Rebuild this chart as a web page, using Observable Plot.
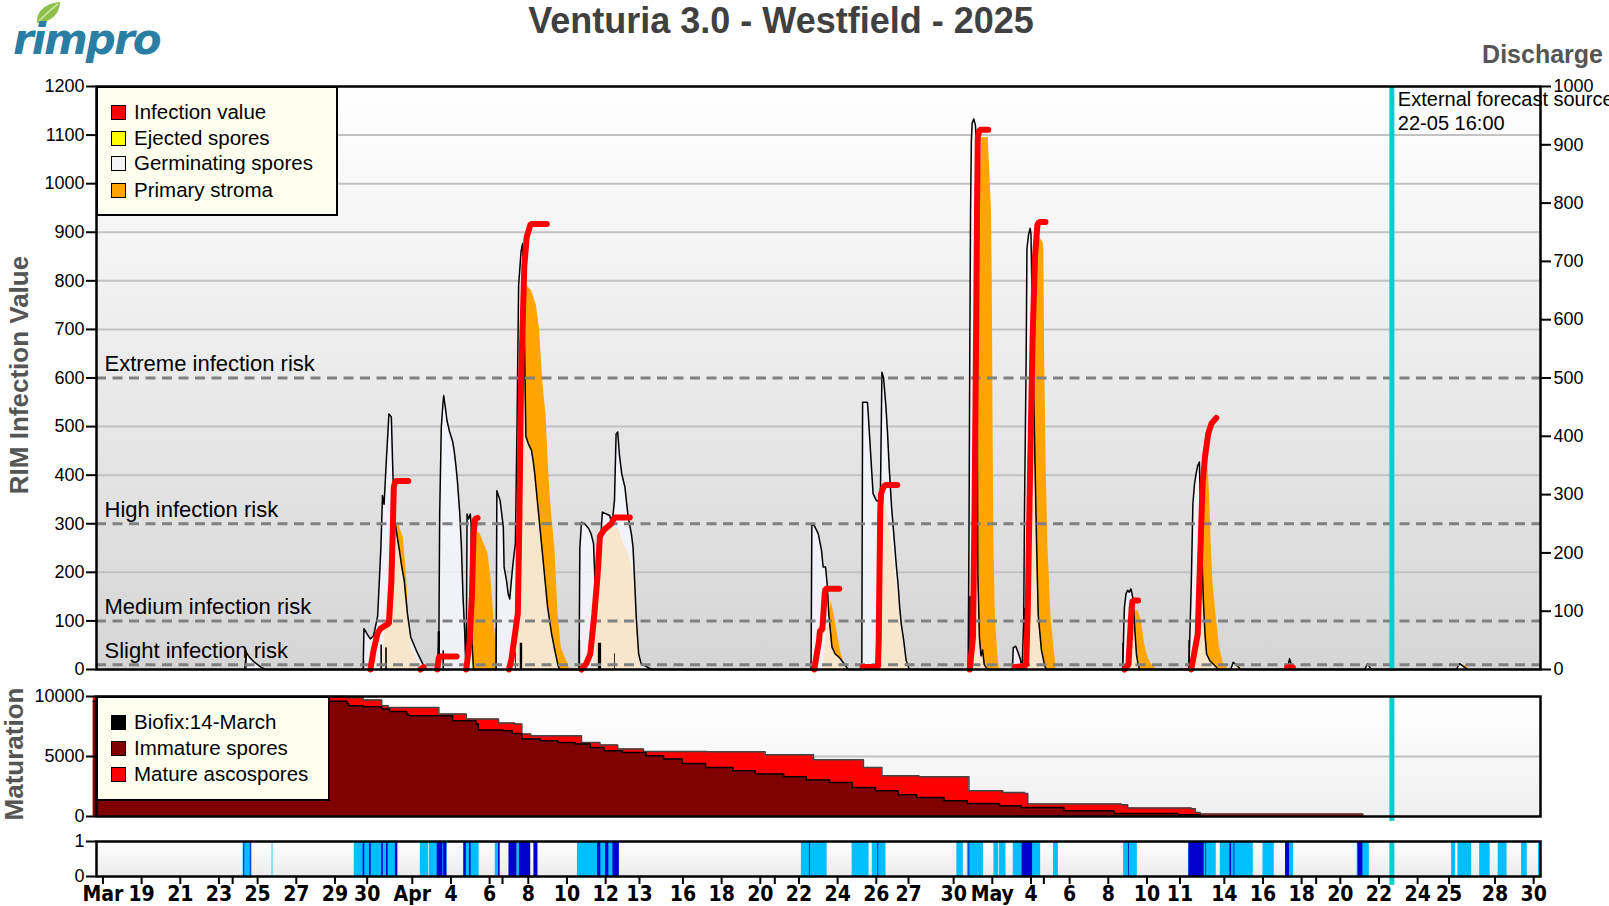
<!DOCTYPE html>
<html><head><meta charset="utf-8">
<script src="https://cdn.jsdelivr.net/npm/d3@7"></script>
<script src="https://cdn.jsdelivr.net/npm/@observablehq/plot@0.6"></script>
<style>
body{margin:0;background:#fff;}
#wrap{position:relative;width:1609px;height:906px;overflow:hidden;font-family:"Liberation Sans",Arial,sans-serif;background:#fff;}
.abs{position:absolute;white-space:nowrap;}
.legend{position:absolute;background:#fffff0;border:2px solid #000;box-sizing:border-box;z-index:5;}
.li{position:absolute;left:13px;height:24px;line-height:24px;font-size:20.5px;color:#000;}
.sw{display:inline-block;width:13px;height:13px;border:1.5px solid #000;vertical-align:-1px;margin-right:8px;}
.ytitle{position:absolute;font-weight:bold;color:#555;font-size:26px;line-height:26px;white-space:nowrap;transform:translate(-50%,-50%) rotate(-90deg);}
</style></head><body><div id="wrap"></div>
<script>
// ---------- DATA ----------
const xDomain = ["03-16 16:00", "05-30 08:30"];
const forecastTime = "05-22 16";
const forecastLabel = "External forecast source\n22-05 16:00";

const leftTicks = [0,100,200,300,400,500,600,700,800,900,1000,1100,1200];
const rightTicks = [0,100,200,300,400,500,600,700,800,900,1000];
const gridLevels = [200,400,500,700,800,900,1000,1100];
const riskLevels = [[10,"Slight infection risk"],[100,"Medium infection risk"],[300,"High infection risk"],[600,"Extreme infection risk"]];

// Germinating spores
const germ = [
["03-24 08",0],["03-24 10",35],["03-24 14",25],["03-24 20",15],["03-25 04",5],["03-25 10",0],
["03-30 11",0],["03-30 12",84],["03-30 17",70],["03-30 20",63],["03-31 00",70],["03-31 05",110],["03-31 09",250],["03-31 11",358],["03-31 13",340],["03-31 16",437],["03-31 19",526],["03-31 22",520],["04-01 00",400],["04-01 02",310],["04-01 06",266],["04-01 08",245],["04-01 11",211],["04-01 14",183],["04-01 18",115],["04-01 22",67],["04-02 05",39],["04-02 10",22],["04-02 14",8],["04-02 17",0],
["04-03 07",0],["04-03 09",60],["04-03 10",320],["04-03 12",498],["04-03 14",546],["04-03 15",564],["04-03 17",540],["04-03 19",513],["04-03 22",491],["04-04 02",470],["04-04 04",450],["04-04 06",422],["04-04 08",388],["04-04 11",320],["04-04 13",251],["04-04 15",148],["04-04 17",80],["04-04 18",30],["04-04 19",0],
["04-04 20",320],["04-04 22",310],["04-05 00",320],["04-05 01",300],["04-05 02",60],["04-05 04",0],
["04-06 08",0],["04-06 09",368],["04-06 13",348],["04-06 17",293],["04-06 18",210],["04-06 21",183],["04-06 23",156],["04-07 01",145],["04-07 03",183],["04-07 05",218],["04-07 08",260],["04-07 10",500],["04-07 12",790],["04-07 15",860],["04-07 17",877],["04-07 19",700],["04-07 21",480],["04-08 00",465],["04-08 04",451],["04-08 06",430],["04-08 08",403],["04-08 12",334],["04-08 16",266],["04-08 20",197],["04-09 00",128],["04-09 05",73],["04-09 09",39],["04-09 13",8],["04-09 15",0],
["04-10 15",0],["04-10 16",250],["04-10 18",303],["04-10 22",300],["04-11 03",290],["04-11 06",279],["04-11 09",259],["04-11 12",130],["04-11 16",200],["04-11 19",300],["04-11 20",324],["04-12 05",317],["04-12 08",300],["04-12 11",348],["04-12 13",485],["04-12 15",489],["04-12 17",444],["04-12 20",403],["04-13 00",375],["04-13 04",313],["04-13 08",279],["04-13 10",252],["04-13 12",183],["04-13 14",108],["04-13 17",32],["04-13 20",12],["04-14 09",0],
["04-22 15",0],["04-22 16",300],["04-22 19",296],["04-23 00",279],["04-23 04",245],["04-23 06",211],["04-23 09",211],["04-23 11",176],["04-23 13",114],["04-23 17",46],["04-23 21",32],["04-24 02",25],["04-24 08",12],["04-24 13",0],
["04-25 06",0],["04-25 07",550],["04-25 13",550],["04-25 14",526],["04-25 16",471],["04-25 18",416],["04-25 20",362],["04-26 00",348],["04-26 05",345],["04-26 07",612],["04-26 09",600],["04-26 10",581],["04-26 12",540],["04-26 14",485],["04-26 16",416],["04-26 19",334],["04-26 21",293],["04-26 23",252],["04-27 01",211],["04-27 03",176],["04-27 05",128],["04-27 07",94],["04-27 10",60],["04-27 13",19],["04-27 17",0],
["04-30 18",0],["04-30 19",256],["04-30 20",637],["04-30 21",942],["04-30 22",1087],["04-30 23",1125],["05-01 01",1133],["05-01 03",1121],["05-01 04",1095],["05-01 05",700],["05-01 06",200],["05-01 08",66],["05-01 10",28],["05-01 12",40],["05-01 14",10],["05-01 18",0],
["05-03 01",0],["05-03 02",45],["05-03 05",48],["05-03 08",35],["05-03 11",20],["05-03 13",0],["05-03 15",104],["05-03 16",333],["05-03 18",637],["05-03 19",866],["05-03 21",895],["05-03 23",908],["05-04 00",896],["05-04 03",600],["05-04 07",256],["05-04 09",112],["05-04 13",40],["05-04 17",8],["05-04 19",0],
["05-08 18",0],["05-08 19",73],["05-08 20",128],["05-08 22",156],["05-09 00",163],["05-09 02",159],["05-09 04",166],["05-09 05",160],["05-09 07",142],["05-09 09",80],["05-09 11",30],["05-09 13",10],["05-09 15",0],
["05-12 04",0],["05-12 07",176],["05-12 09",341],["05-12 11",382],["05-12 13",403],["05-12 15",420],["05-12 17",427],["05-12 19",300],["05-12 22",142],["05-13 00",73],["05-13 02",32],["05-13 06",18],["05-13 14",5],["05-13 16",0],
["05-14 08",0],["05-14 11",15],["05-14 16",8],["05-14 20",0],
["05-17 06",0],["05-17 09",22],["05-17 12",5],["05-17 14",0],
["05-21 06",0],["05-21 10",12],["05-21 14",0],
["05-26 00",0],["05-26 04",12],["05-26 10",5],["05-26 14",0]
];

// Primary stroma
const stroma = [
["03-31 10",0],["03-31 17",150],["04-01 00",280],["04-01 02",300],["04-01 08",295],["04-01 13",270],["04-01 17",190],["04-01 20",80],["04-02 00",40],["04-02 07",15],["04-02 13",0],
["04-05 03",0],["04-05 05",286],["04-05 12",280],["04-05 22",239],["04-06 02",180],["04-06 05",113],["04-06 08",45],["04-06 10",0],
["04-07 08",0],["04-07 14",300],["04-07 20",720],["04-07 22",790],["04-08 04",780],["04-08 10",750],["04-08 14",700],["04-08 18",592],["04-08 22",524],["04-09 00",455],["04-09 02",387],["04-09 05",318],["04-09 09",250],["04-09 11",181],["04-09 13",113],["04-09 17",44],["04-10 03",3],["04-10 05",0],
["04-11 10",0],["04-11 14",150],["04-11 20",240],["04-12 00",270],["04-12 06",295],["04-12 16",290],["04-12 22",260],["04-13 04",240],["04-13 10",200],["04-13 14",120],["04-13 17",40],["04-13 20",0],
["04-23 06",0],["04-23 12",100],["04-23 16",140],["04-23 20",110],["04-24 00",70],["04-24 04",35],["04-24 10",0],
["04-26 02",0],["04-26 06",300],["04-26 08",360],["04-26 12",340],["04-26 16",300],["04-26 20",250],["04-27 00",190],["04-27 04",140],["04-27 08",80],["04-27 12",25],["04-27 15",0],
["05-01 02",0],["05-01 06",600],["05-01 09",1000],["05-01 11",1095],["05-01 19",1095],["05-01 21",1020],["05-01 23",942],["05-02 00",789],["05-02 01",484],["05-02 02",256],["05-02 04",103],["05-02 07",28],["05-02 09",0],
["05-03 22",0],["05-04 03",400],["05-04 07",800],["05-04 10",889],["05-04 15",880],["05-04 16",866],["05-04 17",637],["05-04 19",409],["05-04 21",256],["05-05 01",104],["05-05 07",5],["05-05 08",0],
["05-09 02",0],["05-09 07",80],["05-09 10",121],["05-09 13",121],["05-09 17",101],["05-09 21",53],["05-10 01",25],["05-10 05",12],["05-10 12",0],
["05-12 13",0],["05-12 20",200],["05-13 00",380],["05-13 04",416],["05-13 06",348],["05-13 08",245],["05-13 10",176],["05-13 14",108],["05-13 18",46],["05-13 23",12],["05-14 05",0],
["05-14 12",0],["05-14 16",12],["05-14 22",0],["05-26 08",0],["05-26 12",10],["05-26 16",0]
];

// Infection value (time, value, event)
const infection = [
["04-02 10",0,"a"],["04-02 14",5,"a"],
["03-30 20",0,"B"],["03-31 00",40,"B"],["03-31 05",75,"B"],["03-31 09",85,"B"],["03-31 19",95,"B"],["03-31 22",180,"B"],["04-01 00",300,"B"],["04-01 01",375,"B"],["04-01 03",388,"B"],["04-01 19",388,"B"],
["04-03 07",0,"C"],["04-03 09",25,"C"],["04-03 10",27,"C"],["04-04 07",27,"C"],
["04-04 19",0,"D"],["04-04 23",55,"D"],["04-05 02",150,"D"],["04-05 04",280,"D"],["04-05 06",310,"D"],["04-05 09",312,"D"],
["04-07 00",0,"E"],["04-07 03",20,"E"],["04-07 11",115,"E"],["04-07 13",318,"E"],["04-07 15",592,"E"],["04-07 19",828,"E"],["04-07 22",890,"E"],["04-08 03",917,"E"],["04-08 23",917,"E"],
["04-10 18",0,"F"],["04-11 00",12,"F"],["04-11 05",32,"F"],["04-11 10",114,"F"],["04-11 14",194,"F"],["04-11 17",275,"F"],["04-11 23",289,"F"],["04-12 07",300,"F"],["04-12 11",313,"F"],["04-13 06",313,"F"],
["04-22 19",0,"G"],["04-23 01",60,"G"],["04-23 02",80,"G"],["04-23 05",82,"G"],["04-23 08",156,"G"],["04-23 09",166,"G"],["04-24 02",166,"G"],
["04-25 07",5,"H"],["04-26 02",5,"H"],["04-26 03",60,"H"],["04-26 04",200,"H"],["04-26 05",334,"H"],["04-26 06",362,"H"],["04-26 08",372,"H"],["04-26 11",380,"H"],["04-27 02",380,"H"],
["04-30 20",0,"I"],["05-01 00",66,"I"],["05-01 02",333,"I"],["05-01 04",714,"I"],["05-01 05",942,"I"],["05-01 06",1095,"I"],["05-01 08",1111,"I"],["05-01 19",1111,"I"],
["05-03 04",5,"J"],["05-03 18",8,"J"],["05-03 20",120,"J"],["05-03 23",420,"J"],["05-04 02",680,"J"],["05-04 05",850,"J"],["05-04 08",915,"J"],["05-04 10",921,"J"],["05-04 18",921,"J"],
["05-08 20",0,"K"],["05-09 01",10,"K"],["05-09 03",70,"K"],["05-09 05",128,"K"],["05-09 06",142,"K"],["05-09 13",142,"K"],
["05-12 07",0,"L"],["05-12 15",73,"L"],["05-12 19",279,"L"],["05-12 21",382,"L"],["05-13 00",437,"L"],["05-13 04",485,"L"],["05-13 08",506,"L"],["05-13 14",518,"L"],
["05-17 06",4,"M"],["05-17 13",4,"M"]
];

// Discharge (start, hours, value on right axis)
const discharge = [
["03-24 10",1,33],["03-30 12",1,15],["03-31 09",2,42],["03-31 15",2,37],["04-03 08",3,65],["04-03 14",2,32],["04-04 19",2,72],["04-06 08",1,70],["04-07 08",1,30],["04-07 14",3,45],["04-10 15",2,50],["04-11 15",4,45],["04-12 11",1,27],["04-30 20",2,125],["05-03 16",2,105],["05-08 18",1,45],["05-12 04",2,50]
];

// Maturation (step values)
const immature = [
["03-16 12",9600],["03-29 15",9417],["03-29 17",9225],["03-30 11",9142],["03-31 10",8950],["03-31 20",8750],["04-01 17",8533],["04-01 19",8392],["04-04 02",7975],["04-05 07",7700],["04-05 10",7200],["04-06 17",7142],["04-07 04",6917],["04-07 16",6450],["04-08 15",6308],["04-09 13",6167],["04-10 10",6033],["04-11 05",5750],["04-11 22",5475],["04-12 21",5333],["04-14 02",5058],["04-15 00",4783],["04-15 23",4417],["04-17 04",4083],["04-18 14",3808],["04-19 18",3533],["04-21 05",3308],["04-22 09",3033],["04-23 14",2833],["04-24 18",2417],["04-25 23",2142],["04-27 03",1808],["04-28 02",1583],["04-29 12",1308],["04-30 17",1083],["05-02 09",892],["05-03 12",750],["05-05 17",475],["05-08 07",250],["05-11 14",142],["05-12 18",0]
];
const totalSpores = [
["03-16 12",10000],["03-29 15",9917],["03-30 11",9700],["03-31 10",9225],["03-31 18",9083],["04-03 09",8533],["04-04 19",8117],["04-06 11",7783],["04-07 07",7700],["04-07 16",6867],["04-08 03",6725],["04-10 18",6167],["04-11 17",5950],["04-12 15",5617],["04-13 23",5417],["04-17 06",5392],["04-20 06",5142],["04-22 18",4725],["04-25 08",4083],["04-26 07",3392],["04-28 05",3308],["04-30 19",2142],["05-02 13",2000],["05-03 16",1917],["05-03 20",1033],["05-08 16",975],["05-09 00",700],["05-12 07",642],["05-12 12",333],["05-12 18",200],["05-21 04",0]
];

// Wetness strip intervals
const wetLight = [
["03-24 06","03-24 17"],["03-25 18","03-25 19"],["03-30 00","04-01 06"],["04-02 10","04-02 20"],["04-02 21","04-03 19"],["04-04 16","04-05 11"],["04-06 07","04-06 13"],["04-07 10","04-07 13"],["04-10 13","04-12 17"],["04-22 03","04-23 11"],["04-24 18","04-25 15"],["04-25 19","04-26 12"],["04-30 04","04-30 12"],["04-30 17","05-01 13"],["05-02 02","05-02 08"],["05-02 09","05-02 17"],["05-03 02","05-04 12"],["05-05 04","05-05 10"],["05-08 19","05-09 12"],["05-12 04","05-13 14"],["05-13 19","05-15 12"],["05-16 00","05-16 14"],["05-17 04","05-17 14"],["05-20 21","05-21 12"],["05-25 18","05-25 23"],["05-26 02","05-26 19"],["05-27 05","05-27 18"],["05-28 04","05-28 15"],["05-29 09","05-29 16"],["05-30 06","05-30 09"]
];
const wetDark = [
["03-24 07","03-24 08"],["03-24 15","03-24 16"],["03-30 11","03-30 13"],["03-30 19","03-30 21"],["03-31 10","03-31 12"],["03-31 16","03-31 18"],["04-01 03","04-01 06"],["04-03 07","04-03 14"],["04-03 15","04-03 19"],["04-04 16","04-04 19"],["04-04 23","04-05 01"],["04-06 11","04-06 13"],["04-07 00","04-07 10"],["04-07 13","04-08 03"],["04-08 07","04-08 12"],["04-11 14","04-11 18"],["04-12 00","04-12 04"],["04-12 09","04-12 17"],["04-22 13","04-22 14"],["04-26 02","04-26 03"],["04-30 19","04-30 20"],["05-03 13","05-04 02"],["05-09 01","05-09 02"],["05-12 04","05-12 23"],["05-13 01","05-13 02"],["05-14 07","05-14 09"],["05-14 12","05-14 13"],["05-17 04","05-17 09"],["05-20 22","05-21 04"]
];

// Bottom axis ticks and labels
const tickTimes = ["03-17 00","03-19 00","03-21 00","03-23 00","03-23 17","03-25 00","03-27 00","03-29 00","03-30 16","04-02 00","04-04 00","04-06 00","04-06 16","04-08 00","04-10 00","04-12 00","04-13 18","04-16 00","04-18 00","04-20 00","04-20 18","04-22 00","04-24 00","04-26 00","04-27 16","04-30 00","05-02 00","05-04 00","05-04 16","05-06 00","05-08 00","05-10 00","05-11 17","05-14 00","05-16 00","05-18 00","05-18 18","05-20 00","05-22 00","05-24 00","05-25 15","05-28 00","05-30 00"];
const tickLabels = ["Mar","19","21","23","","25","27","29","30","Apr","4","6","","8","10","12","13","16","18","20","","22","24","26","27","30","May","4","","6","8","10","11","14","16","18","","20","22","24","25","28","30"];

const mainLegend = [["Infection value","#ff0000"],["Ejected spores","#ffff00"],["Germinating spores","#f4f4f4"],["Primary stroma","#ffa500"]];
const matLegend = [["Biofix:14-March","#000000"],["Immature spores","#800000"],["Mature ascospores","#ff0000"]];

// ---------- HELPERS ----------
const T = s => new Date(Date.UTC(2025, +s.slice(0,2)-1, +s.slice(3,5), +s.slice(6,8), s.length > 9 ? +s.slice(9,11) : 0));
const XD = xDomain.map(T);
const FC = T(forecastTime);
const FONT = "Liberation Sans, Arial, sans-serif";
const NARROW = "Liberation Sans Narrow, DejaVu Sans Condensed, Arial Narrow, sans-serif";
const CYAN = "#00CED1";
const labelMap = new Map(tickTimes.map((s,i) => [+T(s), tickLabels[i]]));
const plain = d => String(d);

function addBg(svg, m, W, H, c1, c2, id) {
  const s = d3.select(svg);
  const g = s.insert("defs", ":first-child").append("linearGradient").attr("id", id).attr("x1",0).attr("y1",0).attr("x2",0).attr("y2",1);
  g.append("stop").attr("offset","0%").attr("stop-color", c1);
  g.append("stop").attr("offset","100%").attr("stop-color", c2);
  const firstG = svg.querySelector("g");
  const r = document.createElementNS("http://www.w3.org/2000/svg","rect");
  r.setAttribute("x", m.l); r.setAttribute("y", m.t);
  r.setAttribute("width", W - m.l - m.r); r.setAttribute("height", H - m.t - m.b);
  r.setAttribute("fill", `url(#${id})`);
  svg.insertBefore(r, firstG);
}
const baseStyle = {fontFamily: FONT, fontSize: "18px", color: "black", background: "transparent", overflow: "visible"};

// ---------- MAIN PANEL ----------
const mM = {t: 86, b: 21, l: 96, r: 69};
const main = Plot.plot({
  width: 1609, height: 690,
  marginTop: mM.t, marginBottom: mM.b, marginLeft: mM.l, marginRight: mM.r,
  x: {type: "utc", domain: XD, axis: null},
  y: {domain: [0, 1200], axis: null},
  style: baseStyle,
  marks: [
    Plot.ruleY(gridLevels, {stroke: "#c2c2c2", strokeWidth: 2}),
    Plot.areaY(stroma, {x: d => T(d[0]), y: d => d[1], fill: "#ffa500"}),
    Plot.areaY(germ, {x: d => T(d[0]), y: d => d[1], fill: "#f6f6ff", fillOpacity: 0.8}),
    Plot.line(germ, {x: d => T(d[0]), y: d => d[1], stroke: "black", strokeWidth: 1.5}),
    Plot.rect(discharge, {x1: d => T(d[0]), x2: d => new Date(+T(d[0]) + d[1]*3600e3), y1: 0, y2: d => d[2]*1.2, fill: "black"}),
    Plot.ruleY(riskLevels, {y: d => d[0], stroke: "#808080", strokeWidth: 3, strokeDasharray: "10,6.5"}),
    Plot.text(riskLevels, {y: d => d[0], text: d => d[1], frameAnchor: "left", textAnchor: "start", dx: 8, dy: -14, fontSize: 22}),
    Plot.line(infection, {x: d => T(d[0]), y: d => d[1], z: d => d[2], stroke: "#ff0000", strokeWidth: 6, strokeLinejoin: "miter"}),
    Plot.ruleX([FC], {stroke: CYAN, strokeWidth: 5}),
    Plot.text([forecastLabel], {x: () => FC, frameAnchor: "top", text: d => d, textAnchor: "start", lineAnchor: "top", lineHeight: 1.18, dx: 6, dy: 3, fontSize: 20}),
    Plot.axisY({anchor: "left", ticks: leftTicks, tickFormat: plain, tickSize: 10, tickPadding: 2, strokeWidth: 2, fontSize: 18, label: null}),
    Plot.axisY({anchor: "right", ticks: rightTicks.map(v => v*1.2), tickFormat: d => String(Math.round(d/1.2)), tickSize: 10, tickPadding: 3, strokeWidth: 2, fontSize: 18, label: null}),
    Plot.frame({stroke: "black", strokeWidth: 2.5})
  ]
});
addBg(main, mM, 1609, 690, "#ffffff", "#d5d5d5", "bgMain");

// ---------- MATURATION PANEL ----------
const mT = {t: 6, b: 14, l: 96, r: 69};
const mat = Plot.plot({
  width: 1609, height: 140,
  marginTop: mT.t, marginBottom: mT.b, marginLeft: mT.l, marginRight: mT.r,
  x: {type: "utc", domain: XD, axis: null},
  y: {domain: [0, 10000], axis: null},
  style: baseStyle,
  marks: [
    Plot.ruleY([5000], {stroke: "#c0c0c0", strokeWidth: 2}),
    Plot.areaY(totalSpores, {x: d => T(d[0]), y: d => d[1], curve: "step-after", fill: "#ff0000"}),
    Plot.areaY(immature, {x: d => T(d[0]), y: d => d[1], curve: "step-after", fill: "#800000"}),
    Plot.line(totalSpores, {x: d => T(d[0]), y: d => d[1], curve: "step-after", stroke: "#444", strokeWidth: 1.5}),
    Plot.line(immature, {x: d => T(d[0]), y: d => d[1], curve: "step-after", stroke: "black", strokeWidth: 1.5}),
    Plot.ruleX([FC], {y1: -400, y2: 10000, stroke: CYAN, strokeWidth: 5}),
    Plot.axisY({anchor: "left", ticks: [0, 5000, 10000], tickFormat: plain, tickSize: 10, tickPadding: 2, strokeWidth: 2, fontSize: 18, label: null}),
    Plot.frame({stroke: "black", strokeWidth: 2.5})
  ]
});
addBg(mat, mT, 1609, 140, "#ffffff", "#efefef", "bgMat");

// ---------- WETNESS STRIP ----------
const mS = {t: 11, b: 30, l: 96, r: 69};
const strip = Plot.plot({
  width: 1609, height: 76,
  marginTop: mS.t, marginBottom: mS.b, marginLeft: mS.l, marginRight: mS.r,
  x: {type: "utc", domain: XD, axis: null},
  y: {domain: [0, 1], axis: null},
  style: baseStyle,
  marks: [
    Plot.rect(wetLight, {x1: d => T(d[0]), x2: d => T(d[1]), y1: 0, y2: 1, fill: "#00bfff"}),
    Plot.rect(wetDark, {x1: d => T(d[0]), x2: d => T(d[1]), y1: 0, y2: 1, fill: "#0000cd"}),
    Plot.ruleX([FC], {y1: -0.25, y2: 1, stroke: CYAN, strokeWidth: 5}),
    Plot.axisY({anchor: "left", ticks: [0, 1], tickFormat: plain, tickSize: 10, tickPadding: 2, strokeWidth: 2, fontSize: 18, label: null}),
    Plot.axisX({anchor: "bottom", ticks: tickTimes.map(T), tickFormat: d => labelMap.get(+d) ?? "", tickSize: 8, tickPadding: 2, strokeWidth: 2, fontSize: 21, fontWeight: "bold", fontFamily: NARROW, label: null}),
    Plot.frame({stroke: "black", strokeWidth: 2.5})
  ]
});
addBg(strip, mS, 1609, 76, "#ffffff", "#ebebeb", "bgStrip");

// ---------- ASSEMBLY ----------
const wrap = document.getElementById("wrap");
function place(el, top) { el.style.position = "absolute"; el.style.left = "0px"; el.style.top = top + "px"; wrap.appendChild(el); }
place(main, 0); place(mat, 690); place(strip, 830);

function div(html, css, cls) { const d = document.createElement("div"); d.className = cls || "abs"; d.innerHTML = html; d.style.cssText += css; wrap.appendChild(d); return d; }

// logo
div(`<svg width="28" height="24" viewBox="0 0 28 24"><path d="M3 22 C2 10 12 2 26 1 C26 13 16 22 3 22 Z" fill="#8cc04a"/><path d="M5 20 C11 14 17 8 24 3" stroke="#c8e3a0" stroke-width="1.6" fill="none"/></svg>`, "left:34px;top:1px;");
div("rimpro", "left:13px;top:19px;font:italic bold 42px 'DejaVu Sans',sans-serif;letter-spacing:-2px;color:#2a7ea3;line-height:42px;");
// titles
div("Venturia 3.0 - Westfield - 2025", "left:781px;top:3px;transform:translateX(-50%);font-weight:bold;font-size:36px;line-height:36px;color:#404040;");
div("Discharge", "right:6px;top:42px;font-weight:bold;font-size:25px;line-height:25px;color:#555;");
div("RIM Infection Value", "left:18.5px;top:375px;", "ytitle");
div("Maturation", "left:14px;top:754px;", "ytitle");

// legends
function legend(items, left, top, w, h, rowTops) {
  const box = document.createElement("div");
  box.className = "legend";
  box.style.cssText = `left:${left}px;top:${top}px;width:${w}px;height:${h}px;`;
  items.forEach((it, i) => {
    const r = document.createElement("div");
    r.className = "li";
    r.style.top = rowTops[i] + "px";
    r.innerHTML = `<span class="sw" style="background:${it[1]}"></span>${it[0]}`;
    box.appendChild(r);
  });
  wrap.appendChild(box);
}
legend(mainLegend, 96, 86, 242, 130, [12, 38, 63, 90]);
legend(matLegend, 96, 696, 234, 105, [12, 38, 64]);
</script></body></html>
